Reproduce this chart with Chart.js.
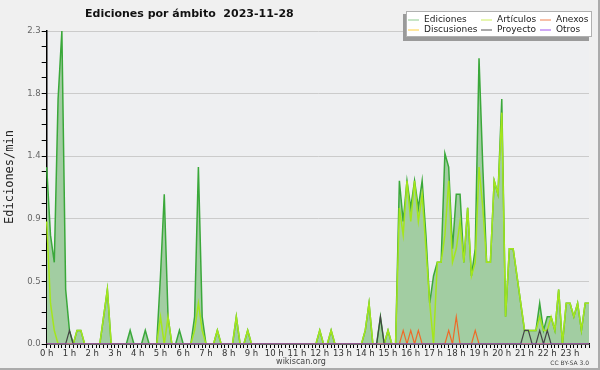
<!DOCTYPE html>
<html>
<head>
<meta charset="utf-8">
<script src="https://cdn.jsdelivr.net/npm/chart.js@4"></script>
<style>
  html, body { margin: 0; padding: 0; background: #f0f0f0; }
</style>
</head>
<body>
<canvas id="chart" width="600" height="370"></canvas>
<script>
// Ediciones por ámbito - wikiscan, 2023-11-28
// one value every 10 minutes, in edits per minute

const hourLabels = ['0 h', '1 h', '2 h', '3 h', '4 h', '5 h', '6 h', '7 h', '8 h', '9 h', '10 h', '11 h',
                    '12 h', '13 h', '14 h', '15 h', '16 h', '17 h', '18 h', '19 h', '20 h', '21 h', '22 h', '23 h'];

// 10-minute slots: 00:00, 00:10, ... 23:50
const slots = [];
for (let h = 0; h < 24; h++) {
    for (let m = 0; m < 60; m += 10) {
        slots.push(String(h).padStart(2, '0') + ':' + String(m).padStart(2, '0'));
    }
}

const yTicks = [0, 0.46, 0.92, 1.38, 1.84, 2.3];

// six values per line = one hour
const ediciones = [
    1.3, 0.8, 0.6, 1.8, 2.3, 0.4,
    0.1, 0, 0.1, 0.1, 0, 0,
    0, 0, 0, 0.2, 0.4, 0,
    0, 0, 0, 0, 0.1, 0,
    0, 0, 0.1, 0, 0, 0,
    0.5, 1.1, 0.2, 0, 0, 0.1,
    0, 0, 0, 0.2, 1.3, 0.2,
    0, 0, 0, 0.1, 0, 0,
    0, 0, 0.2, 0, 0, 0.1,
    0, 0, 0, 0, 0, 0,
    0, 0, 0, 0, 0, 0,
    0, 0, 0, 0, 0, 0,
    0.1, 0, 0, 0.1, 0, 0,
    0, 0, 0, 0, 0, 0,
    0.1, 0.3, 0, 0, 0.2, 0,
    0.1, 0, 0, 1.2, 0.9, 1.2,
    1.0, 1.2, 1.0, 1.2, 0.8, 0.3,
    0.5, 0.6, 0.6, 1.4, 1.3, 0.7,
    1.1, 1.1, 0.6, 1.0, 0.5, 0.7,
    2.1, 1.3, 0.6, 0.6, 1.2, 1.1,
    1.8, 0.2, 0.7, 0.7, 0.5, 0.3,
    0.1, 0.1, 0.1, 0.1, 0.3, 0.1,
    0.2, 0.2, 0.1, 0.4, 0, 0.3,
    0.3, 0.2, 0.3, 0.1, 0.3, 0.3
];

const articulos = [
    0.9, 0.3, 0.1, 0, 0, 0,
    0, 0, 0.1, 0.1, 0, 0,
    0, 0, 0, 0.2, 0.4, 0,
    0, 0, 0, 0, 0, 0,
    0, 0, 0, 0, 0, 0,
    0.2, 0, 0.2, 0, 0, 0,
    0, 0, 0, 0.1, 0.3, 0.1,
    0, 0, 0, 0.1, 0, 0,
    0, 0, 0.2, 0, 0, 0.1,
    0, 0, 0, 0, 0, 0,
    0, 0, 0, 0, 0, 0,
    0, 0, 0, 0, 0, 0,
    0.1, 0, 0, 0.1, 0, 0,
    0, 0, 0, 0, 0, 0,
    0.1, 0.3, 0, 0, 0, 0,
    0.1, 0, 0, 1.0, 0.8, 1.2,
    0.9, 1.2, 0.9, 1.1, 0.7, 0.3,
    0, 0.6, 0.6, 0.8, 1.2, 0.6,
    0.7, 0.9, 0.6, 1.0, 0.5, 0.6,
    1.3, 1.0, 0.6, 0.6, 1.2, 1.1,
    1.7, 0.2, 0.7, 0.7, 0.5, 0.3,
    0.1, 0.1, 0.1, 0.1, 0.2, 0.1,
    0.1, 0.2, 0.1, 0.4, 0, 0.3,
    0.3, 0.2, 0.3, 0.1, 0.3, 0.3
];

// sparse series: slot index -> value, everything else is zero
const anexosPeaks = { 94: 0.1, 96: 0.1, 98: 0.1, 106: 0.1, 108: 0.2, 113: 0.1 };
const proyectoPeaks = { 6: 0.1, 88: 0.2, 126: 0.1, 127: 0.1, 130: 0.1, 132: 0.1 };
const discusionesPeaks = {};
const otrosPeaks = {};

const fromPeaks = peaks => slots.map((s, i) => peaks[i] || 0);

const fontName = "'DejaVu Sans', sans-serif";

const series = [
    { label: 'Ediciones',   data: ediciones,                  color: '#3aa83a', swatch: '#8fcc8f', width: 1.5, order: 10 },
    { label: 'Artículos',   data: articulos,                  color: '#a4e61c', swatch: '#cdee60', width: 1.5, order: 5 },
    { label: 'Anexos',      data: fromPeaks(anexosPeaks),     color: '#ee6a28', swatch: '#f08050', width: 1.2, order: 3 },
    { label: 'Discusiones', data: fromPeaks(discusionesPeaks), color: '#ffcc22', swatch: '#ffd040', width: 1.2, order: 4 },
    { label: 'Proyecto',    data: fromPeaks(proyectoPeaks),   color: '#444444', swatch: '#555555', width: 1.2, order: 2 },
    { label: 'Otros',       data: fromPeaks(otrosPeaks),      color: '#9944ee', swatch: '#a055ee', width: 1.2, order: 1 }
];

// background and frame
const backdrop = {
    id: 'backdrop',
    beforeDraw(chart) {
        const { ctx, chartArea: a } = chart;
        ctx.save();
        ctx.fillStyle = '#f0f0f0';
        ctx.fillRect(0, 0, chart.width, chart.height);
        ctx.fillStyle = '#eeeff1';
        ctx.fillRect(a.left, a.top, a.right - a.left, a.bottom - a.top);
        ctx.fillStyle = '#ababab';
        ctx.fillRect(chart.width - 2, 0, 2, chart.height);
        ctx.fillRect(0, chart.height - 2, chart.width, 2);
        ctx.restore();
    }
};

// title, axis title, footer and the boxed legend
const captions = {
    id: 'captions',
    afterDraw(chart) {
        const ctx = chart.ctx;
        ctx.save();

        ctx.fillStyle = '#111';
        ctx.font = 'bold 11px ' + fontName;
        ctx.textAlign = 'left';
        ctx.textBaseline = 'middle';
        ctx.fillText('Ediciones por ámbito  2023-11-28', 85, 14);

        ctx.save();
        ctx.translate(10, 177);
        ctx.rotate(-Math.PI / 2);
        ctx.font = "12px 'DejaVu Sans Mono', monospace";
        ctx.fillStyle = '#222';
        ctx.textAlign = 'center';
        ctx.fillText('Ediciones/min', 0, 0);
        ctx.restore();

        ctx.font = '8px ' + fontName;
        ctx.fillStyle = '#444';
        ctx.textAlign = 'center';
        ctx.fillText('wikiscan.org', 301, 362);
        ctx.font = '6px ' + fontName;
        ctx.textAlign = 'right';
        ctx.fillText('CC BY-SA 3.0', 589, 363);

        // legend box
        ctx.fillStyle = '#9a9a9a';
        ctx.fillRect(403, 14, 186, 27);
        ctx.fillStyle = '#ffffff';
        ctx.fillRect(406, 11, 186, 26);
        ctx.strokeStyle = '#b0b0b0';
        ctx.lineWidth = 1;
        ctx.strokeRect(406.5, 11.5, 185, 25);

        const colX = [408, 481, 540];
        const rowY = [19.5, 29.5];
        ctx.font = '9px ' + fontName;
        ctx.textAlign = 'left';
        chart.data.datasets.forEach((ds, i) => {
            const x = colX[i % 3];
            const y = rowY[Math.floor(i / 3)];
            ctx.strokeStyle = series[i].swatch;
            ctx.beginPath();
            ctx.moveTo(x, y + 0.5);
            ctx.lineTo(x + 11, y + 0.5);
            ctx.stroke();
            ctx.fillStyle = '#222';
            ctx.fillText(ds.label, x + 16, y);
        });

        ctx.restore();
    }
};

const chart = new Chart(document.getElementById('chart'), {
    type: 'line',
    data: {
        labels: slots,
        datasets: series.map(s => ({
            label: s.label,
            data: s.data,
            borderColor: s.color,
            borderWidth: s.width,
            backgroundColor: s.label === 'Ediciones' ? '#a2cda2' : s.color,
            fill: s.label === 'Ediciones' ? 'origin' : false,
            order: s.order
        }))
    },
    options: {
        responsive: false,
        animation: false,
        layout: { padding: { left: 0, right: 11, top: 31, bottom: 6 } },
        elements: {
            point: { radius: 0 },
            line: { tension: 0, borderJoinStyle: 'miter' }
        },
        plugins: {
            legend: { display: false },
            tooltip: { enabled: false }
        },
        scales: {
            x: {
                type: 'category',
                z: 1,
                afterFit: scale => { scale.height = 20; },
                grid: { drawOnChartArea: false, tickLength: 4, tickColor: '#000', tickWidth: 1 },
                border: { color: '#000', width: 1.5 },
                ticks: {
                    autoSkip: false,
                    maxRotation: 0,
                    minRotation: 0,
                    padding: 1,
                    color: '#333',
                    font: { family: fontName, size: 8.5 },
                    callback: (value, index) => index % 6 === 0 ? hourLabels[index / 6] : ''
                }
            },
            y: {
                min: 0,
                max: 2.3,
                afterFit: scale => { scale.width = 46.7; },
                afterBuildTicks: scale => {
                    const ticks = [];
                    yTicks.forEach((v, i) => {
                        ticks.push({ value: v, isMajor: true });
                        if (i < yTicks.length - 1) {
                            for (let k = 1; k < 4; k++) {
                                ticks.push({ value: v + (yTicks[i + 1] - v) * k / 4, isMajor: false });
                            }
                        }
                    });
                    scale.ticks = ticks;
                },
                grid: {
                    color: ctx => (ctx.tick && ctx.tick.isMajor) ? '#cbcbcb' : 'rgba(0,0,0,0)',
                    tickColor: '#000',
                    tickLength: 5,
                    tickWidth: 1
                },
                border: { color: '#000', width: 1.5 },
                ticks: {
                    padding: 1,
                    color: '#666',
                    font: { family: fontName, size: 8.5 },
                    callback: (value, index, ticks) => ticks[index].isMajor ? value.toFixed(1) : ''
                }
            }
        }
    },
    plugins: [backdrop, captions]
});
</script>
</body>
</html>
